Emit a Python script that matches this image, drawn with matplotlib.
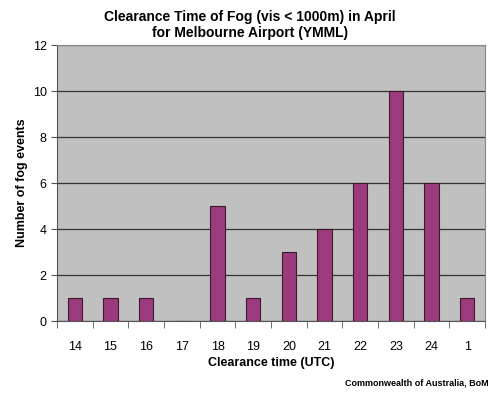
import matplotlib
matplotlib.use("Agg")
import matplotlib.pyplot as plt
import numpy as np

categories = ["14", "15", "16", "17", "18", "19", "20", "21", "22", "23", "24", "1"]
counts = [1, 1, 1, 0, 5, 1, 3, 4, 6, 10, 6, 1]
yticks = [0, 2, 4, 6, 8, 10, 12]

plt.rcParams['font.family'] = ['Liberation Sans', 'DejaVu Sans']

fig = plt.figure(figsize=(5, 3.95), dpi=100)
ax = fig.add_axes([0.114, 0.187, 0.856, 0.699])
ax.set_facecolor('#C0C0C0')

x = np.arange(len(categories))
ax.bar(x, counts, width=0.4, color='#9B3B7E', edgecolor='#3a1a2a', linewidth=0.8, zorder=3)

ax.set_xlim(-0.5, len(categories) - 0.5)
ax.set_ylim(0, 12)
ax.set_yticks(yticks)
ax.yaxis.grid(True, color='#333333', linewidth=0.9, zorder=1)
ax.set_xticks(x)
ax.set_xticklabels(categories, fontsize=9)
ax.tick_params(axis='x', length=0, pad=14)
ax.set_xticks(np.arange(-0.5, len(categories)), minor=True)
ax.tick_params(axis='x', which='minor', length=5, direction='out', color='#555555')
ax.tick_params(axis='y', length=4, direction='out', labelsize=9, color='#555555')

for side in ['top', 'right']:
    ax.spines[side].set_color('#888888')
    ax.spines[side].set_linewidth(0.8)
for side in ['left', 'bottom']:
    ax.spines[side].set_color('#555555')
    ax.spines[side].set_linewidth(0.8)

ax.set_xlabel("Clearance time (UTC)", fontsize=9, fontweight='bold', labelpad=3)
ax.set_ylabel("Number of fog events", fontsize=9, fontweight='bold', labelpad=3)

fig.text(0.5, 0.975, "Clearance Time of Fog (vis < 1000m) in April\nfor Melbourne Airport (YMML)",
         ha='center', va='top', fontsize=10, fontweight='bold', linespacing=1.15)
fig.text(0.978, 0.03, "Commonwealth of Australia, BoM", ha='right', va='center',
         fontsize=6.5, fontweight='bold')

fig.savefig("out.png", dpi=100)
